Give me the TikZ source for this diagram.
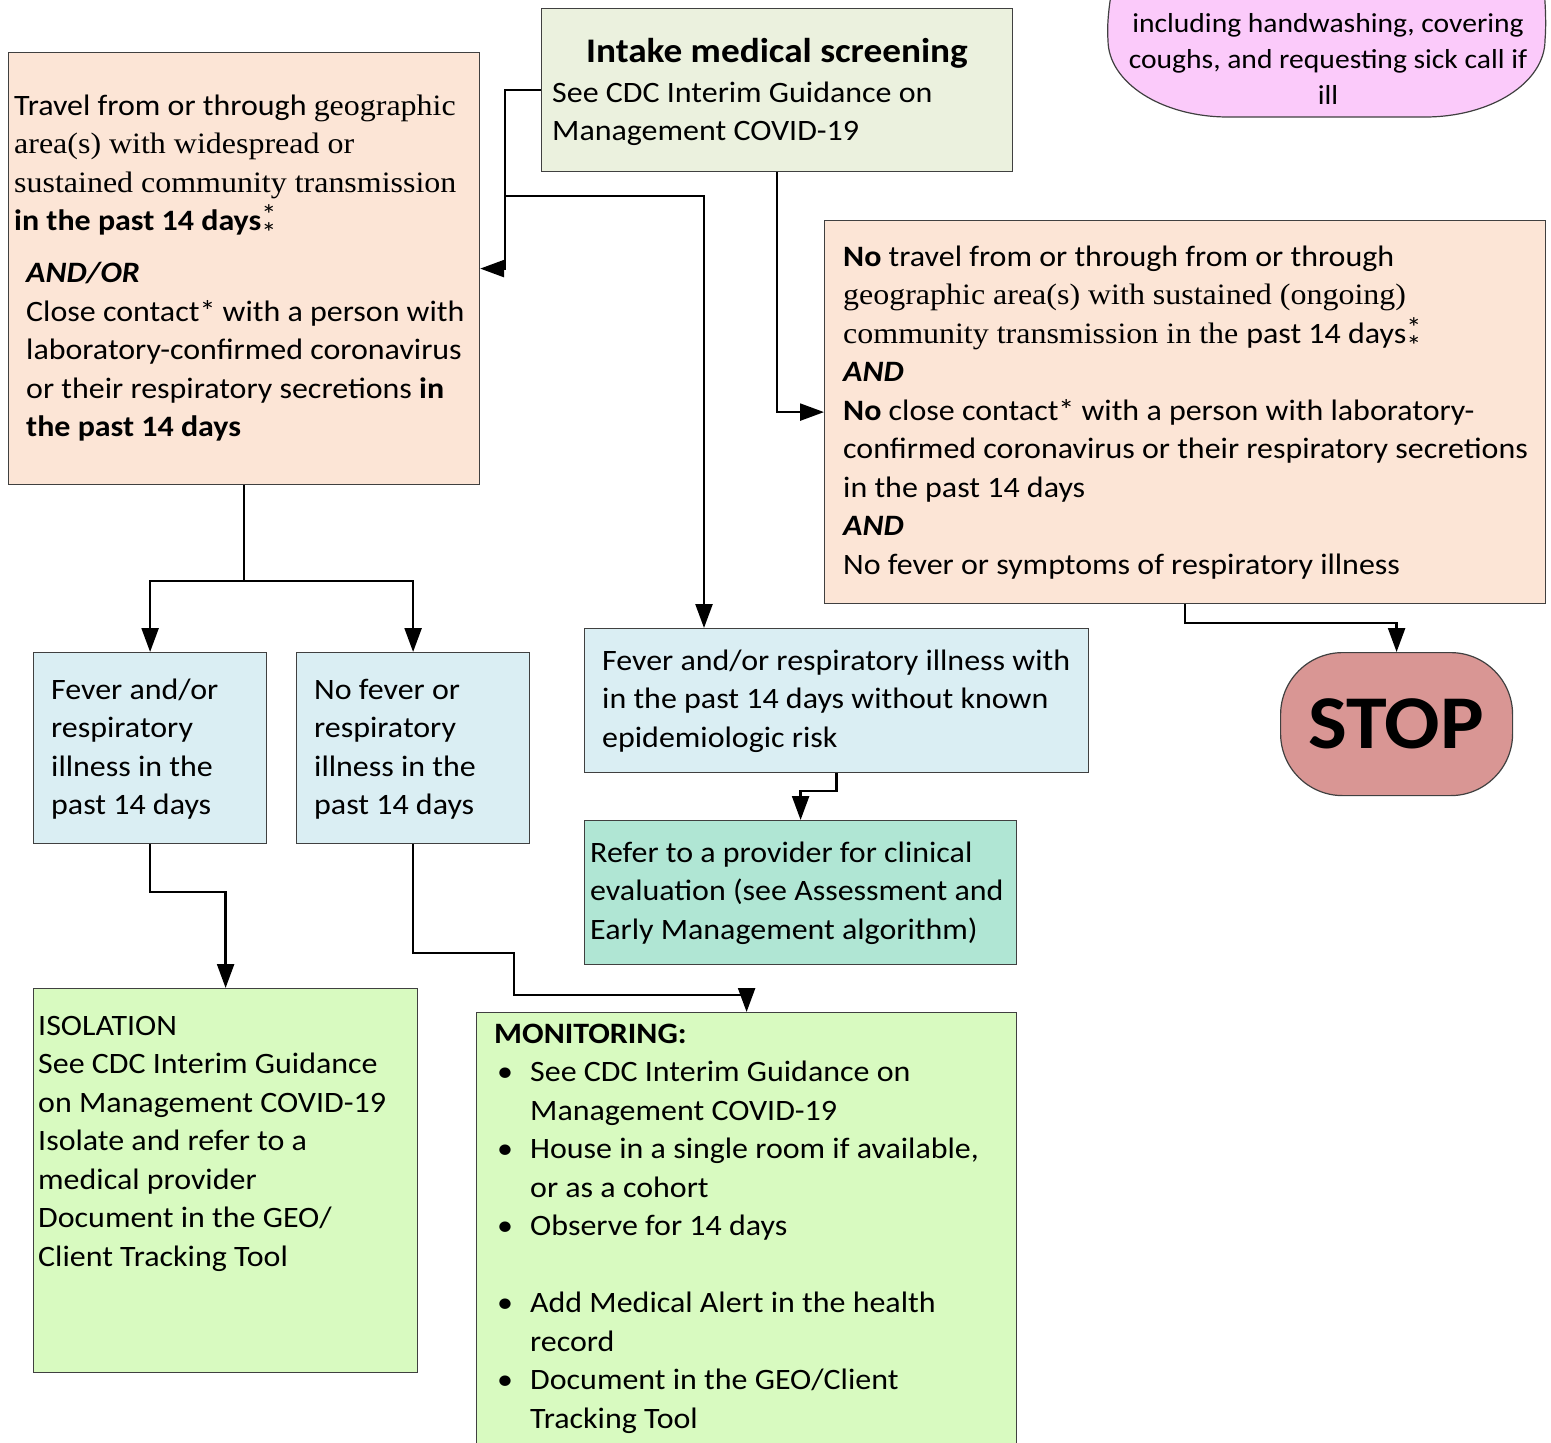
\documentclass[tikz,border=0pt]{standalone}
\usepackage{fontspec}
\setmainfont{Carlito}[FakeStretch=1.08]
\newfontfamily\tnr{Liberation Serif}[FakeStretch=1.08]
\usetikzlibrary{arrows.meta,calc}
\definecolor{peach}{RGB}{252,229,214}
\definecolor{intakec}{RGB}{235,241,222}
\definecolor{pinkc}{RGB}{251,202,250}
\definecolor{bluec}{RGB}{218,238,243}
\definecolor{tealc}{RGB}{176,230,212}
\definecolor{greenc}{RGB}{216,250,192}
\definecolor{stopc}{RGB}{217,150,148}
\definecolor{bordc}{RGB}{64,64,64}
\newcommand\Sx{\rule{0pt}{25pt}}
\newcommand\dast{{\fontsize{28}{28}\selectfont\rlap{\raisebox{6pt}{*}}\raisebox{-12pt}{*}}}
\newcommand\bul{\makebox[36pt][l]{\hspace{3pt}•}}
\tikzset{
  box/.style={draw=bordc, line width=1.2pt, rectangle, inner sep=0pt, anchor=north west},
  txt/.style={anchor=north west, inner sep=0pt, align=left, font=\fontsize{29.6}{38.5}\selectfont},
  arr/.style={draw=black, line width=2.4pt, -{Triangle[width=17pt,length=24pt]}},
  ln/.style={draw=black, line width=2.4pt}
}
\begin{document}
\begin{tikzpicture}[x=1pt,y=1pt]
\useasboundingbox (0,0) rectangle (1551,-1443);
\begin{scope}
\clip (0,0) rectangle (1551,-1443);
% boxes
\node[box, fill=peach, minimum width=471pt, minimum height=432pt] (travel) at (8,-52) {};
\node[box, fill=intakec, minimum width=471pt, minimum height=163pt] (intake) at (541,-8) {};
\node[box, fill=peach, minimum width=721pt, minimum height=383pt] (right) at (824,-220) {};
\node[box, fill=bluec, minimum width=233pt, minimum height=191pt] (blue1) at (33,-652) {};
\node[box, fill=bluec, minimum width=233pt, minimum height=191pt] (blue2) at (296,-652) {};
\node[box, fill=bluec, minimum width=504pt, minimum height=144pt] (blue3) at (584,-628) {};
\node[box, fill=tealc, minimum width=432pt, minimum height=144pt] (teal) at (584,-820) {};
\node[box, fill=greenc, minimum width=384pt, minimum height=384pt] (iso) at (33,-988) {};
\node[box, fill=greenc, minimum width=540pt, minimum height=460pt] (mon) at (476,-1012) {};
\node[box, fill=stopc, rounded corners=62pt, minimum width=232pt, minimum height=143pt] (stop) at (1280,-652) {};
% pink rounded shape (top cut off)
\path[draw=bordc, fill=pinkc, line width=1.2pt] (1112,10) .. controls (1108,-10) and (1107,-30) .. (1108,-40)
  arc[start angle=180,end angle=270,x radius=120,y radius=77] -- (1425,-117)
  arc[start angle=270,end angle=360,x radius=120,y radius=77] .. controls (1546,-30) and (1546,-10) .. (1544,10);
% texts
\node[txt] (ttravel) at (14,-90) {\Sx Travel from or through {\tnr geographic}\\
{\tnr area(s) with widespread or}\\
{\tnr sustained community transmission}\\
\textbf{in the past 14 days}\dast\\[13.5pt]
\hspace*{12pt}\textbf{\textit{AND/OR}}\\
\hspace*{12pt}Close contact* with a person with\\
\hspace*{12pt}laboratory-confirmed coronavirus\\
\hspace*{12pt}or their respiratory secretions \textbf{in}\\
\hspace*{12pt}\textbf{the past 14 days}};
\node[anchor=base, inner sep=0pt, font=\fontsize{34.5}{40}\selectfont\bfseries] (tintake) at (777,-62) {Intake medical screening};
\node[txt] (tintake2) at (552,-77) {\Sx See CDC Interim Guidance on\\Management COVID-19};
\node[anchor=north, inner sep=0pt, align=center, font=\fontsize{27.4}{36}\selectfont] (tpink) at (1328,-7) {\Sx including handwashing, covering\\coughs, and requesting sick call if\\ill};
\node[txt] (tright) at (843,-241) {\Sx\textbf{No} travel from or through from or through\\
{\tnr geographic area(s) with sustained (ongoing)}\\
{\tnr community transmission in the }past 14 days\dast\\
\textbf{\textit{AND}}\\
\textbf{No} close contact* with a person with laboratory-\\
confirmed coronavirus or their respiratory secretions\\
in the past 14 days\\
\textbf{\textit{AND}}\\
No fever or symptoms of respiratory illness};
\node[anchor=base, inner sep=0pt, font=\fontsize{76}{80}\selectfont\bfseries] (tstop) at (1396,-748) {STOP};
\node[txt] (tblue1) at (51,-674) {\Sx Fever and/or\\respiratory\\illness in the\\past 14 days};
\node[txt] (tblue2) at (314,-674) {\Sx No fever or\\respiratory\\illness in the\\past 14 days};
\node[txt] (tblue3) at (602,-645) {\Sx Fever and/or respiratory illness with\\in the past 14 days without known\\epidemiologic risk};
\node[txt] (tteal) at (590,-837) {\Sx Refer to a provider for clinical\\evaluation (see Assessment and\\Early Management algorithm)};
\node[txt] (tiso) at (38,-1010) {\Sx ISOLATION\\See CDC Interim Guidance\\on Management COVID-19\\Isolate and refer to a\\medical provider\\Document in the GEO/\\Client Tracking Tool};
\node[txt] (tmon) at (494,-1018) {\Sx\textbf{MONITORING:}\\
\bul See CDC Interim Guidance on\\
\hspace*{36pt}Management COVID-19\\
\bul House in a single room if available,\\
\hspace*{36pt}or as a cohort\\
\bul Observe for 14 days\\
\mbox{}\\
\bul Add Medical Alert in the health\\
\hspace*{36pt}record\\
\bul Document in the GEO/Client\\
\hspace*{36pt}Tracking Tool};
% connectors
\coordinate (j1) at (505,-196);
\draw[arr] (intake.west) -| (j1) |- (travel.east);
\draw[arr] (j1) -| ($(blue3.north west)+(120,0)$);
\draw[arr] (intake.south) |- (right.west);
\draw[arr] (right.south) -- ++(0,-19) -| (stop.north);
\draw[ln] (travel.south) -- ++(0,-96) coordinate (j2);
\draw[arr] (j2) -| (blue1.north);
\draw[arr] (j2) -| (blue2.north);
\draw[arr] (blue3.south) -- ++(0,-18) -| (teal.north);
\draw[arr] (blue1.south) -- ++(0,-48) -| (iso.north);
\draw[arr] (blue2.south) -- ++(0,-109) -| ++(101,-42) -| (mon.north);
\end{scope}
\end{tikzpicture}
\end{document}
